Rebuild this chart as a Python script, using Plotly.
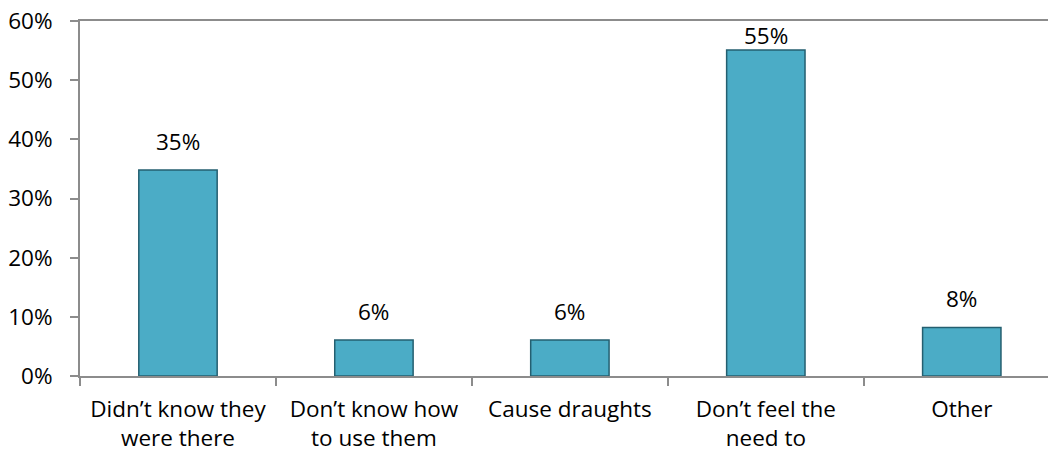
import plotly.graph_objects as go

# Reasons given for not using the vents
categories = [
    "Didn’t know they<br>were there",
    "Don’t know how<br>to use them",
    "Cause draughts",
    "Don’t feel the<br>need to",
    "Other",
]
shares = [0.348, 0.061, 0.061, 0.551, 0.082]

FONT = "Open Sans"
FONT_SIZE = 22.5
AXIS_GREY = "#8c8c8c"
BAR_FILL = "#4bacc6"
BAR_EDGE = "#245f70"
Y_MAX = 0.60

fig = go.Figure()
fig.add_trace(go.Bar(
    x=categories,
    y=shares,
    marker=dict(color=BAR_FILL, line=dict(color=BAR_EDGE, width=1.5)),
    hoverinfo="skip",
))

# Value labels above each bar; labels near the top of the frame sit closer to the bar
for cat, v in zip(categories, shares):
    shift = 11 if v < 0.50 else -3
    fig.add_annotation(
        x=cat, y=v, text=f"{v:.0%}", showarrow=False,
        yanchor="bottom", yshift=shift,
        font=dict(family=FONT, size=FONT_SIZE, color="#000000"),
    )

fig.update_layout(
    width=1048, height=455,
    margin=dict(l=80, r=0, t=21, b=79),
    paper_bgcolor="white", plot_bgcolor="white",
    showlegend=False,
    bargap=0.6,
    font=dict(family=FONT, size=FONT_SIZE, color="#000000"),
    xaxis=dict(
        type="category",
        range=[-0.5, 4.44],
        automargin=False,
        showline=True, linecolor=AXIS_GREY, linewidth=2, mirror=True,
        ticks="outside", tickson="boundaries", ticklen=8, tickwidth=2, tickcolor=AXIS_GREY,
        showgrid=False, zeroline=False,
        tickfont=dict(family=FONT, size=FONT_SIZE, color="#000000"),
        ticklabelstandoff=12,
    ),
    yaxis=dict(
        range=[0, Y_MAX],
        automargin=False,
        tickvals=[0, 0.1, 0.2, 0.3, 0.4, 0.5, 0.6],
        tickformat=".0%",
        showline=True, linecolor=AXIS_GREY, linewidth=2,
        ticks="outside", ticklen=8, tickwidth=2, tickcolor=AXIS_GREY,
        showgrid=False, zeroline=False,
        tickfont=dict(family=FONT, size=FONT_SIZE, color="#000000"),
        ticklabelstandoff=13,
    ),
)

fig.write_html("out.html")
